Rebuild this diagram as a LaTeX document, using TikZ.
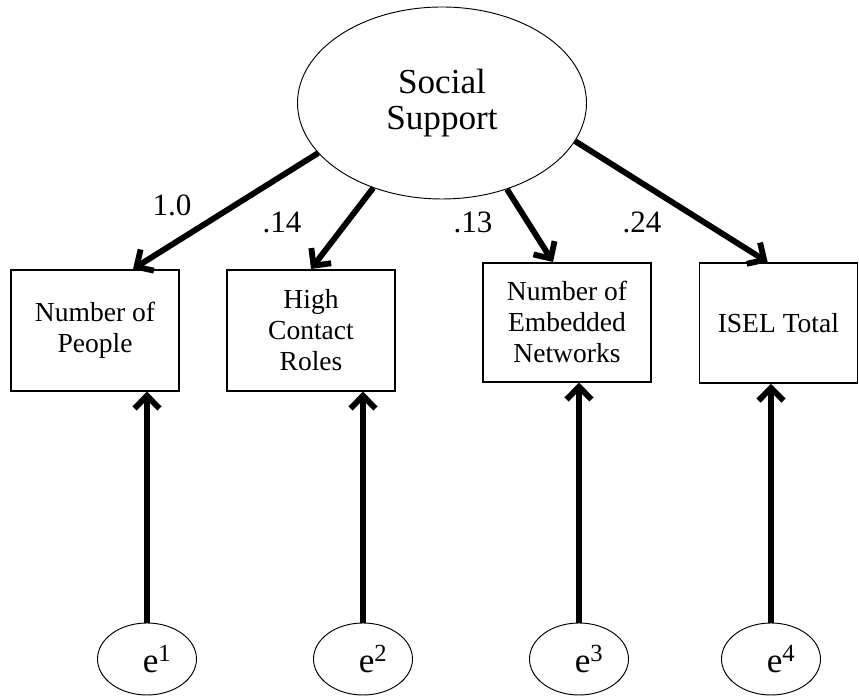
\documentclass[tikz,border=0pt]{standalone}
\usepackage{fontspec}
\setmainfont{Liberation Serif}
\usetikzlibrary{arrows.meta, positioning, calc, shapes.geometric}

\begin{document}
\begin{tikzpicture}[x=1cm, y=1cm,
  latent/.style={draw, ellipse, line width=0.8pt, inner sep=0pt, align=center},
  observed/.style={draw, rectangle, line width=1.4pt, inner sep=0pt, align=center,
    minimum width=5.04cm, minimum height=3.63cm, font=\fontsize{23.5}{26.5}\selectfont},
  errterm/.style={latent, minimum width=2.97cm, minimum height=2.16cm, font=\fontsize{30}{36}\selectfont},
  link/.style={line width=5pt, -{Straight Barb[length=3.8mm, width=7.5mm]}},
  loading/.style={font=\fontsize{26.5}{30}\selectfont}]
\useasboundingbox (0,0) rectangle (25.77,20.88);
\node[latent, minimum width=8.67cm, minimum height=5.76cm, font=\fontsize{30}{30}\selectfont]
  (support) at (13.26,17.79) {Social\\Support};
\node[observed] (people) at (2.85,10.97) {Number of\\People};
\node[observed] (roles) at (9.33,10.97) {High\\Contact\\Roles};
\node[observed, minimum height=3.57cm] (networks) at (17.01,11.21) {Number of\\Embedded\\Networks};
\node[observed, minimum width=4.74cm, minimum height=3.6cm] (isel) at (23.35,11.19) {ISEL Total};
\node[errterm] (e1) at (4.41,1.11) {\hspace{0.6cm}e\textsuperscript{1}};
\node[errterm] (e2) at (10.89,1.11) {\hspace{0.6cm}e\textsuperscript{2}};
\node[errterm] (e3) at (17.37,1.11) {\hspace{0.6cm}e\textsuperscript{3}};
\node[errterm] (e4) at (23.13,1.11) {\hspace{0.6cm}e\textsuperscript{4}};
\draw[link] (support.202) -- ($(people.north)+(1.14,0)$);
\draw[link] (support.231) -- (roles.north);
\draw[link] (support.307) -- ($(networks.north)+(-0.42,0)$);
\draw[link] (support.344) -- ($(isel.north)+(-0.32,0)$);
\foreach \e/\b in {e1/people, e2/roles, e3/networks, e4/isel}
  \draw[link] (\e.north) -- (\e.north |- \b.south);
\node[loading] (l1) at (5.16,14.73) {1.0};
\node[loading] (l2) at (8.46,14.22) {.14};
\node[loading] (l3) at (14.19,14.22) {.13};
\node[loading] (l4) at (19.26,14.22) {.24};
\end{tikzpicture}
\end{document}
